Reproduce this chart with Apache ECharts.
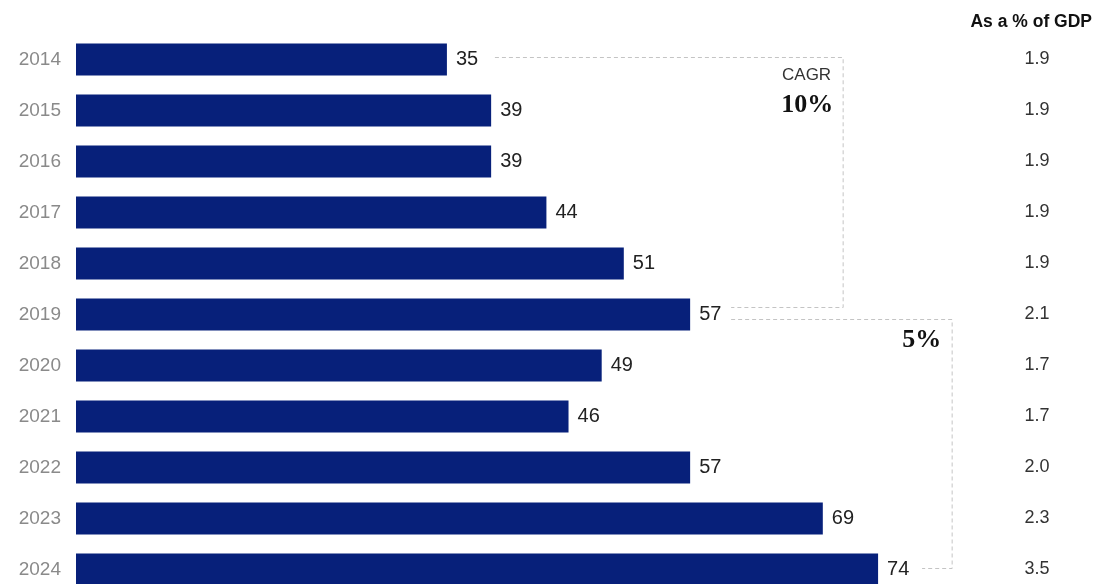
<!DOCTYPE html>
<html>
<head>
<meta charset="utf-8">
<script src="https://cdn.jsdelivr.net/npm/echarts@6/dist/echarts.min.js"></script>
<style>
  html, body { margin: 0; padding: 0; background: #fff; }
  #chart { width: 1109px; height: 584px; }
</style>
</head>
<body>
<div id="chart"></div>
<script>
// data
var years = ['2014', '2015', '2016', '2017', '2018', '2019', '2020', '2021', '2022', '2023', '2024'];
var spend = [35, 39, 39, 44, 51, 57, 49, 46, 57, 69, 74];
var gdpShare = ['1.9', '1.9', '1.9', '1.9', '1.9', '2.1', '1.7', '1.7', '2.0', '2.3', '3.5'];
var cagrLabels = ['10%', '5%'];

var SANS = '"Liberation Sans", Arial, sans-serif';
var SERIF = '"Liberation Serif", "DejaVu Serif", serif';
var BAR = '#07207a';
var DASH = '#c4c4c4';

var chart = echarts.init(document.getElementById('chart'));

var option = {
    animation: false,
    title: {
        text: 'As a % of GDP',
        right: 12,
        top: 8,
        textStyle: {
            fontFamily: SANS,
            fontSize: 17.5,
            fontWeight: 'bold',
            color: '#111'
        }
    },
    grid: {
        left: 76,
        top: 34,
        width: 885,
        height: 561,
        outerBoundsMode: 'none' // last row runs past the bottom edge
    },
    xAxis: {
        type: 'value',
        min: 1.45,
        max: 81.5,
        show: false
    },
    yAxis: [
        {
            type: 'category',
            inverse: true,
            data: years,
            axisLine: { show: false },
            axisTick: { show: false },
            axisLabel: {
                margin: 15,
                color: '#8a8a8a',
                fontSize: 19,
                fontFamily: SANS
            }
        },
        {
            type: 'category',
            inverse: true,
            position: 'right',
            data: gdpShare,
            axisLine: { show: false },
            axisTick: { show: false },
            axisLabel: {
                margin: 76,
                align: 'center',
                color: '#333',
                fontSize: 18,
                fontFamily: SANS
            }
        }
    ],
    series: [
        {
            type: 'bar',
            data: spend,
            barWidth: 32,
            clip: true,
            itemStyle: { color: BAR },
            label: {
                show: true,
                position: 'right',
                distance: 9,
                color: '#222',
                fontSize: 20,
                fontFamily: SANS
            }
        }
    ]
};

chart.setOption(option);

// CAGR brackets, placed from the chart's own scales
function pt(v, i) {
    return chart.convertToPixel({ xAxisIndex: 0, yAxisIndex: 0 }, [v, years[i]]);
}

var last = years.length - 1;
var bx1 = pt(70.84, 0)[0];
var bx2 = pt(80.7, 0)[0];
var y0 = pt(0, 0)[1] - 2;
var y5a = pt(0, 5)[1] - 7;
var y5b = pt(0, 5)[1] + 5;
var y10 = pt(0, last)[1] - 1;
var s0 = pt(spend[0], 0)[0] + 48;
var s5 = pt(spend[5], 5)[0] + 41;
var s10 = pt(spend[last], last)[0] + 44;

chart.setOption({
    graphic: [
        {
            type: 'polyline',
            shape: { points: [[s0, y0], [bx1, y0], [bx1, y5a], [s5, y5a]] },
            style: { stroke: DASH, lineWidth: 1, lineDash: [4, 3], fill: null }
        },
        {
            type: 'polyline',
            shape: { points: [[s5, y5b], [bx2, y5b], [bx2, y10], [s10, y10]] },
            style: { stroke: DASH, lineWidth: 1, lineDash: [4, 3], fill: null }
        },
        {
            type: 'text',
            x: bx1 - 12,
            y: y0 + 18,
            style: {
                text: 'CAGR',
                align: 'right', verticalAlign: 'middle',
                textAlign: 'right', textVerticalAlign: 'middle',
                fontFamily: SANS, fontSize: 17, fill: '#333'
            }
        },
        {
            type: 'text',
            x: bx1 - 10,
            y: y0 + 48,
            style: {
                text: cagrLabels[0],
                align: 'right', verticalAlign: 'middle',
                textAlign: 'right', textVerticalAlign: 'middle',
                fontFamily: SERIF, fontSize: 26, fontWeight: 'bold', fill: '#111'
            }
        },
        {
            type: 'text',
            x: bx2 - 11,
            y: y5b + 21,
            style: {
                text: cagrLabels[1],
                align: 'right', verticalAlign: 'middle',
                textAlign: 'right', textVerticalAlign: 'middle',
                fontFamily: SERIF, fontSize: 26, fontWeight: 'bold', fill: '#111'
            }
        }
    ]
});
</script>
</body>
</html>
